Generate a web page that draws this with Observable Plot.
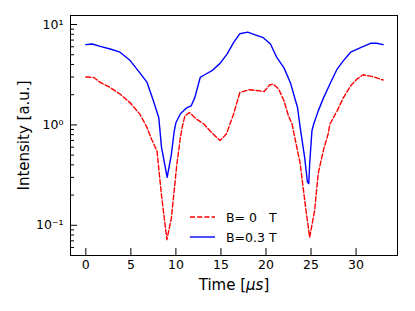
<!DOCTYPE html>
<html>
<head>
<meta charset="utf-8">
<script src="https://cdn.jsdelivr.net/npm/d3@7"></script>
<script src="https://cdn.jsdelivr.net/npm/@observablehq/plot@0.6"></script>
<style>
  html, body { margin: 0; padding: 0; background: #fff; }
  #chart { position: relative; width: 415px; height: 311px; }
  svg { font-family: "DejaVu Sans", sans-serif; }
</style>
</head>
<body>
<div id="chart"></div>
<script>
// Series B = 0 T (red dashed)
const timeB0 = [0, 0.9, 1.6, 2.7, 3.8, 4.9, 6.0, 6.8, 7.3, 7.9, 8.4, 9.0, 9.5, 10.1, 10.5, 10.7, 11.0, 11.5, 12.3, 13.1, 14.0, 14.9, 15.6, 16.4, 17.1, 18.1, 19.0, 19.8, 20.4, 20.8, 21.4, 22.0, 22.5, 22.9, 23.2, 23.8, 24.4, 24.85, 25.4, 25.8, 26.4, 26.9, 27.1, 27.9, 28.6, 29.4, 30.1, 30.8, 32.0, 33.0];
const intensityB0 = [3.0, 2.97, 2.65, 2.36, 2.03, 1.67, 1.28, 0.94, 0.72, 0.55, 0.2, 0.072, 0.118, 0.40, 0.75, 0.95, 1.23, 1.33, 1.14, 1.02, 0.83, 0.70, 0.81, 1.28, 2.1, 2.24, 2.2, 2.15, 2.5, 2.55, 2.28, 1.74, 1.23, 1.02, 0.75, 0.41, 0.15, 0.076, 0.14, 0.33, 0.57, 0.81, 1.02, 1.38, 1.87, 2.45, 2.86, 3.16, 3.0, 2.8];

// Series B = 0.3 T (blue solid)
const timeB03 = [0, 0.7, 1.6, 2.7, 3.8, 4.9, 6.0, 6.8, 7.5, 8.1, 8.4, 9.03, 9.5, 9.8, 10.0, 10.5, 11.2, 11.7, 12.1, 12.7, 13.2, 14.0, 14.9, 15.7, 16.4, 17.1, 17.97, 18.8, 19.7, 20.5, 21.2, 22.0, 22.7, 23.5, 23.8, 24.3, 24.6, 24.75, 24.85, 25.1, 25.3, 25.8, 26.4, 27.1, 27.9, 28.6, 29.4, 30.5, 31.6, 32.3, 33.0];
const intensityB03 = [6.3, 6.4, 6.05, 5.7, 5.3, 4.4, 3.3, 2.65, 1.74, 1.18, 0.6, 0.30, 0.51, 0.85, 1.05, 1.29, 1.48, 1.55, 1.87, 2.97, 3.16, 3.47, 4.1, 5.1, 6.6, 8.1, 8.4, 7.9, 7.4, 6.4, 4.7, 3.7, 2.65, 1.49, 0.94, 0.47, 0.27, 0.26, 0.41, 0.87, 1.02, 1.38, 1.87, 2.56, 3.6, 4.37, 5.3, 5.9, 6.5, 6.5, 6.3];

const xTicks = [0, 5, 10, 15, 20, 25, 30];
const yMajorTicks = [0.1, 1, 10];
const yMajorLabels = ["10⁻¹", "10⁰", "10¹"];
const yMinorTicks = [0.06, 0.07, 0.08, 0.09, 0.2, 0.3, 0.4, 0.5, 0.6, 0.7, 0.8, 0.9, 2, 3, 4, 5, 6, 7, 8, 9];
const legendLabels = ["B= 0   T", "B=0.3 T"];
const xDomain = [-1.7, 34.6];
const yDomain = [0.05, 12.3];

const dataB0 = timeB0.map((t, i) => ({t, v: intensityB0[i]}));
const dataB03 = timeB03.map((t, i) => ({t, v: intensityB03[i]}));

const chart = Plot.plot({
  width: 415,
  height: 311,
  marginLeft: 70,
  marginRight: 18,
  marginTop: 15,
  marginBottom: 56,
  style: {fontFamily: "DejaVu Sans, sans-serif", fontSize: "12.5px", color: "#000", background: "#fff"},
  x: {domain: xDomain},
  y: {type: "log", domain: yDomain},
  marks: [
    Plot.line(dataB0, {x: "t", y: "v", stroke: "#ff0000", strokeWidth: 1.4, strokeDasharray: "5,2.2", curve: "linear"}),
    Plot.line(dataB03, {x: "t", y: "v", stroke: "#0000ff", strokeWidth: 1.4, curve: "linear"}),
    Plot.axisX({ticks: xTicks, tickSize: -7, tickPadding: 12, tickFormat: d => String(d),
      label: "Time [μs]", labelAnchor: "center", labelArrow: "none", labelOffset: 34, fontSize: 12.5, stroke: "#000"}),
    Plot.axisY({ticks: yMajorTicks, tickSize: -7, tickPadding: 14,
      tickFormat: d => yMajorLabels[yMajorTicks.indexOf(d)],
      label: "Intensity [a.u.]", labelAnchor: "center", labelArrow: "none", labelOffset: 52, fontSize: 12.5, stroke: "#000"}),
    Plot.axisY({ticks: yMinorTicks, tickSize: -4, tickFormat: () => "", label: null, stroke: "#000"}),
    Plot.frame({stroke: "#000", strokeWidth: 1})
  ]
});

document.getElementById("chart").appendChild(chart);

const svg = d3.select(chart);
// axis labels: larger font, italic mu s
svg.selectAll('g[aria-label="x-axis label"] text').each(function() {
  const t = d3.select(this);
  t.style("font-size", "15px").text("");
  t.append("tspan").text("Time [");
  t.append("tspan").style("font-style", "italic").text("μs");
  t.append("tspan").text("]");
});
svg.selectAll('g[aria-label="y-axis label"] text').style("font-size", "15px");

// Legend inside plot
const leg = svg.append("g").attr("aria-label", "legend");
const styles = [
  {stroke: "#ff0000", dash: "5,2.2"},
  {stroke: "#0000ff", dash: null}
];
legendLabels.forEach((lab, i) => {
  const y = 217 + i * 20;
  leg.append("line").attr("x1", 190).attr("x2", 215).attr("y1", y).attr("y2", y)
    .attr("stroke", styles[i].stroke).attr("stroke-width", 1.4)
    .attr("stroke-dasharray", styles[i].dash);
  leg.append("text").attr("x", 226).attr("y", y).attr("dy", "0.36em")
    .attr("text-anchor", "start")
    .style("white-space", "pre").attr("xml:space", "preserve")
    .style("font-size", "12.5px").attr("fill", "#000").text(lab);
});
</script>
</body>
</html>
